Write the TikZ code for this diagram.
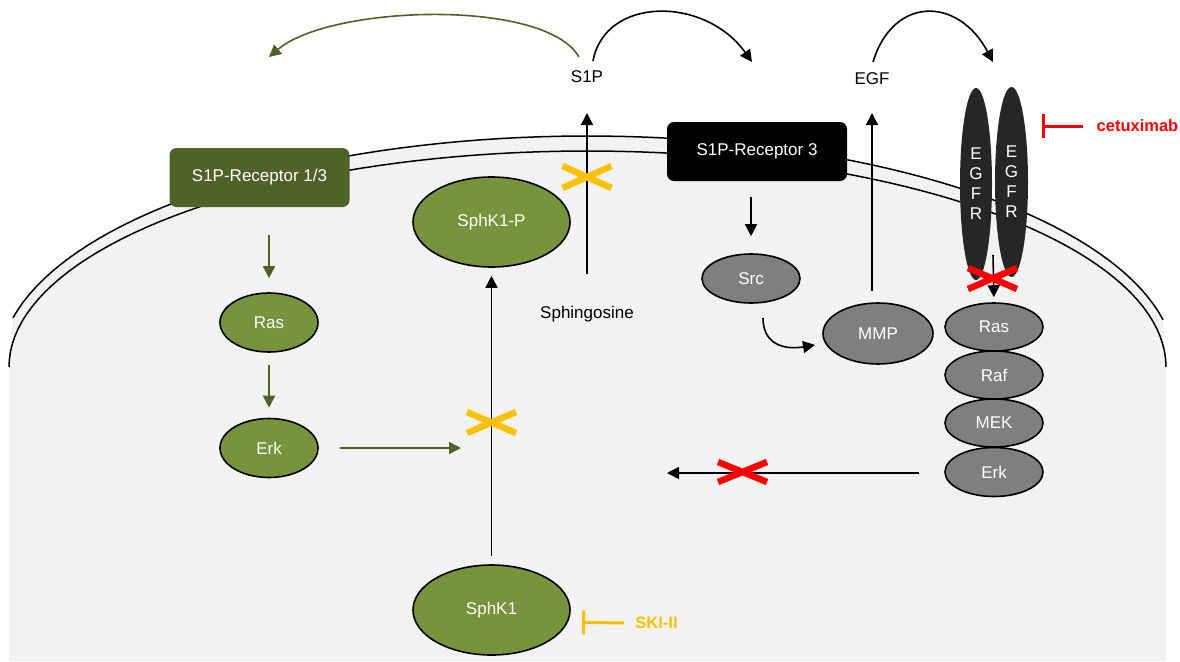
\documentclass[tikz,border=0pt]{standalone}
\usepackage{fontspec}
\setmainfont{Liberation Sans}
\usetikzlibrary{arrows.meta,shapes.geometric}
\definecolor{cellgray}{HTML}{F2F2F2}
\definecolor{olive}{HTML}{4F6228}
\definecolor{leaf}{HTML}{77933C}
\definecolor{protgray}{HTML}{7F7F7F}
\definecolor{egfrdark}{HTML}{262626}
\definecolor{skiorange}{HTML}{FFC000}
\definecolor{cetured}{HTML}{FF0000}
\tikzset{
  prot/.style={ellipse, draw=black, line width=1.6pt, text=white, inner sep=0pt},
  greenprot/.style={prot, fill=leaf},
  grayprot/.style={prot, fill=protgray},
  receptor/.style={rounded corners=7pt, text=white, minimum width=180pt, minimum height=59pt, inner sep=0pt},
  egfr/.style={ellipse, fill=egfrdark, text=white, inner sep=0pt, align=center},
  barrow/.style={line width=1.6pt, -{Triangle[length=12pt,width=12pt]}},
  garrow/.style={barrow, olive},
  blocker/.style={line width=6.5pt, line cap=butt},
  inhib/.style={line width=3pt, -{Bar[width=24pt]}},
  mem/.style={line width=1.5pt}
}
\begin{document}
\begin{tikzpicture}[x=1pt,y=-1pt,font=\fontsize{17}{20}\selectfont]
  \useasboundingbox (0,0) rectangle (1180,661);
  \fill[white] (0,0) rectangle (1180,661);
  \fill[cellgray] (9,661) -- (9,367) -- plot[domain=167.7:11.8,samples=80] ({587.5+588*cos(\x)},{367-231*sin(\x)}) -- (1166,367) -- (1166,661) -- cycle;
  \draw[mem] plot[domain=167.7:11.8,samples=80] ({587.5+588*cos(\x)},{367-231*sin(\x)});
  \draw[mem] plot[domain=180:0,samples=90] ({587.5+578.5*cos(\x)},{367-216*sin(\x)});

  \node[receptor, fill=olive] (r13) at (259.5,177.5) {S1P-Receptor 1/3};
  \node[receptor, fill=black] (r3) at (757,151.5) {S1P-Receptor 3};
  \node[egfr, minimum width=32pt, minimum height=192pt] (egfr1) at (976,184) {E\\G\\F\\R};
  \node[egfr, minimum width=33pt, minimum height=190pt] (egfr2) at (1011.5,182) {E\\G\\F\\R};

  \node[greenprot, minimum width=98pt, minimum height=59pt] (ras1) at (269,322.5) {Ras};
  \node[greenprot, minimum width=98pt, minimum height=59pt] (erk1) at (269,448) {Erk};
  \node[greenprot, minimum width=157pt, minimum height=90pt] (sphkp) at (491.5,222) {SphK1-P};
  \node[greenprot, minimum width=157pt, minimum height=90pt] (sphk) at (491.5,610) {SphK1};
  \node[grayprot, minimum width=98pt, minimum height=49pt] (src) at (751,278.5) {Src};
  \node[grayprot, minimum width=110pt, minimum height=61pt] (mmp) at (878,333.5) {MMP};
  \node[grayprot, minimum width=98pt, minimum height=48pt] (ras2) at (994,327) {Ras};
  \node[grayprot, minimum width=98pt, minimum height=48pt] (raf) at (994,375) {Raf};
  \node[grayprot, minimum width=98pt, minimum height=48pt] (mek) at (994,423) {MEK};
  \node[grayprot, minimum width=98pt, minimum height=49pt] (erk2) at (994,472) {Erk};

  \node (s1p) at (587,77) {S1P};
  \node (egf) at (872,79) {EGF};
  \node (sph) at (587,314) {Sphingosine};
  \node[text=cetured, font=\fontsize{16.5}{20}\selectfont\bfseries] (cetux) at (1137.5,126) {cetuximab};
  \node[text=skiorange, font=\fontsize{16.5}{20}\selectfont\bfseries] (ski) at (656.5,623) {SKI-II};

  \coordinate (s1pleft) at (579,57);
  \coordinate (r13aim) at (269,57);
  \coordinate (s1pright) at (593,61);
  \coordinate (r3aim) at (752,62);
  \coordinate (egfright) at (873,62);
  \coordinate (egfraim) at (993,62);
  \coordinate (sphtop) at (587,274);
  \coordinate (s1pbot) at (587,113);
  \coordinate (mmptop) at (872,291);
  \coordinate (egfbot) at (872,113);
  \coordinate (srcout) at (763,318);
  \coordinate (mmpin) at (815,345);
  \coordinate (egfrout) at (993,255);
  \coordinate (erkaim) at (667,473);
  \coordinate (sphkline) at (461,448);
  \coordinate (cetuxbar) at (1042,126);
  \coordinate (skibar) at (582,622.5);

  \draw[garrow] (s1pleft) .. controls (545,-2) and (330,5) .. (r13aim);
  \draw[barrow] (s1pright) .. controls (605,-4) and (705,-4) .. (r3aim);
  \draw[barrow] (egfright) .. controls (893,-4) and (958,-4) .. (egfraim);

  \draw[garrow, shorten <=28pt, shorten >=14pt] (r13.south -| ras1) -- (ras1.north);
  \draw[garrow, shorten <=12pt, shorten >=10pt] (ras1.south) -- (erk1.north);
  \draw[garrow, shorten <=21pt] (erk1.east) -- (sphkline);

  \draw[barrow] (sphtop) -- (s1pbot);
  \draw[barrow, shorten <=8pt, shorten >=8pt] (sphk.north) -- (sphkp.south);
  \draw[barrow, shorten <=16pt, shorten >=17pt] (r3.south -| src) -- (src.north);
  \draw[barrow] (srcout) .. controls (763,345) and (785,350) .. (mmpin);
  \draw[barrow] (mmptop) -- (egfbot);
  \draw[barrow, shorten >=5pt] (egfrout) -- (ras2.north);
  \draw[barrow, shorten <=25pt] (erk2.west |- erkaim) -- (erkaim);

  \draw[blocker, skiorange] (587,177) ++(-24.5,-11) -- ++(49,22) (587,177) ++(-24.5,11) -- ++(49,-22);
  \draw[blocker, skiorange] (491.5,422.5) ++(-24.5,-10.5) -- ++(49,21) (491.5,422.5) ++(-24.5,10.5) -- ++(49,-21);
  \draw[blocker, cetured] (992.5,278.5) ++(-24.5,-10.5) -- ++(49,21) (992.5,278.5) ++(-24.5,10.5) -- ++(49,-21);
  \draw[blocker, cetured] (742.5,472) ++(-24.5,-10) -- ++(49,20) (742.5,472) ++(-24.5,10) -- ++(49,-20);

  \draw[inhib, cetured, shorten <=10pt] (cetux.west) -- (cetuxbar);
  \draw[inhib, skiorange, shorten <=8pt] (ski.west) -- (skibar);
\end{tikzpicture}
\end{document}
